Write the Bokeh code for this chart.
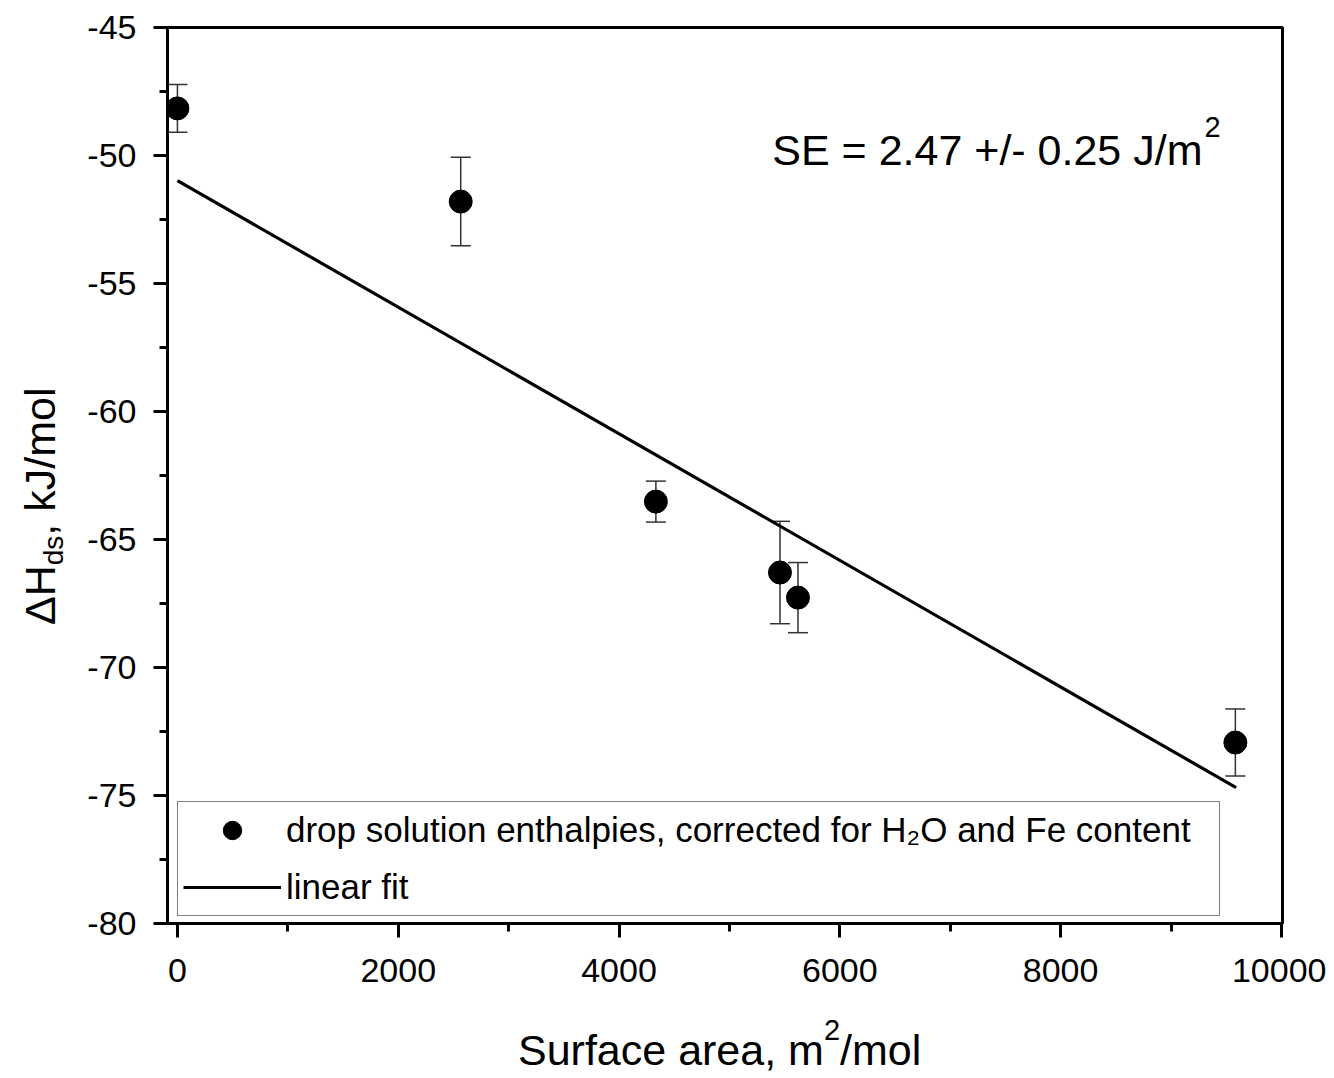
import math
from bokeh.plotting import figure
from bokeh.layouts import row, column
from bokeh.models import (ColumnDataSource, Range1d, FixedTicker, Whisker, TeeHead,
                          Label, Legend, LegendItem, Div)
from bokeh.embed import file_html
from bokeh.resources import INLINE

# ---------------- data ----------------
surface_area = [0, 2566, 4334, 5458, 5621, 9583]          # m2/mol
dh_ds = [-48.16, -51.80, -63.52, -66.29, -67.27, -72.93]   # kJ/mol
dh_err = [0.93, 1.73, 0.80, 2.00, 1.37, 1.31]

fit_x = [0, 9590]
fit_y = [-50.98, -74.69]

x_ticks = [0, 2000, 4000, 6000, 8000, 10000]
x_tick_labels = ["0", "2000", "4000", "6000", "8000", "10000"]
y_ticks = [-80, -75, -70, -65, -60, -55, -50, -45]
y_tick_labels = ["-80", "-75", "-70", "-65", "-60", "-55", "-50", "-45"]

series_label = "drop solution enthalpies, corrected for H\u2082O and Fe content"
fit_label = "linear fit"
se_text = "SE = 2.47 +/- 0.25 J/m"

FONT = "Liberation Sans"

# ---------------- figure ----------------
p = figure(width=1256, height=1010, output_backend="svg", toolbar_location=None,
           x_range=Range1d(-90, 10010), y_range=Range1d(-80, -45),
           min_border_left=97, min_border_right=44,
           min_border_top=27, min_border_bottom=87)
p.grid.visible = False
p.outline_line_color = "black"
p.outline_line_width = 3
p.background_fill_color = "white"
p.border_fill_color = "white"

x_minor = [(a + b) / 2 for a, b in zip(x_ticks, x_ticks[1:])]
y_minor = [(a + b) / 2 for a, b in zip(y_ticks, y_ticks[1:])]
p.xaxis.ticker = FixedTicker(ticks=x_ticks, minor_ticks=x_minor)
p.yaxis.ticker = FixedTicker(ticks=y_ticks, minor_ticks=y_minor)
p.xaxis.major_label_overrides = dict(zip(x_ticks, x_tick_labels))
p.yaxis.major_label_overrides = dict(zip(y_ticks, y_tick_labels))

for ax in (p.xaxis[0], p.yaxis[0]):
    ax.axis_line_width = 3
    ax.axis_line_color = "black"
    ax.major_tick_line_width = 3
    ax.minor_tick_line_width = 3
    ax.major_tick_line_color = "black"
    ax.minor_tick_line_color = "black"
    ax.major_tick_in = 0
    ax.major_tick_out = 14
    ax.minor_tick_in = 0
    ax.minor_tick_out = 8
    ax.major_label_text_font = FONT
    ax.major_label_text_font_size = "34px"
    ax.major_label_text_color = "black"
p.xaxis.major_label_standoff = 21
p.yaxis.major_label_standoff = 17

src = ColumnDataSource(dict(
    x=surface_area, y=dh_ds,
    lo=[v - e for v, e in zip(dh_ds, dh_err)],
    hi=[v + e for v, e in zip(dh_ds, dh_err)],
))

fit_r = p.line(fit_x, fit_y, line_color="black", line_width=3.2)

whisk = Whisker(source=src, base="x", lower="lo", upper="hi", dimension="height",
                line_color="#333333", line_width=1.5,
                upper_head=TeeHead(size=20, line_color="#333333", line_width=1.5),
                lower_head=TeeHead(size=20, line_color="#333333", line_width=1.5))
p.add_layout(whisk)

pts_r = p.scatter("x", "y", source=src, size=23, color="black")

legend = Legend(items=[LegendItem(label=series_label, renderers=[pts_r]),
                       LegendItem(label=fit_label, renderers=[fit_r])],
                location=(10, 7), margin=0, padding=5, spacing=11,
                glyph_width=98, glyph_height=46, label_height=46,
                label_width=928, label_standoff=5,
                label_text_font=FONT, label_text_font_size="35px",
                label_text_color="black",
                border_line_color="black", border_line_width=1.5,
                background_fill_color="white", background_fill_alpha=1.0)
p.add_layout(legend)

# SE annotation inside the frame (screen units relative to the frame)
p.add_layout(Label(x=1035, y=774, x_units="screen", y_units="screen", text=se_text,
                   text_font=FONT, text_font_size="43px", text_color="black",
                   text_align="right", text_baseline="alphabetic"))
p.add_layout(Label(x=1037, y=797, x_units="screen", y_units="screen", text="2",
                   text_font=FONT, text_font_size="29px", text_color="black",
                   text_align="left", text_baseline="alphabetic"))

# ---------------- axis titles (real text with sub/superscripts) ----------------
base_css = "font-family:'Liberation Sans';color:black;white-space:nowrap;"
y_html = (
    '<div style="position:relative;width:70px;height:1070px;">'
    '<div style="position:absolute;left:18.6px;top:625px;transform-origin:0 0;'
    'transform:rotate(-90deg);font-size:43px;line-height:43px;' + base_css + '">'
    '\u0394H<span style="font-size:28px;position:relative;top:8px;">ds</span>, kJ/mol'
    '</div></div>'
)
x_html = (
    '<div style="position:relative;width:1256px;height:60px;">'
    '<div style="position:absolute;left:448px;top:18.6px;font-size:43px;line-height:43px;'
    + base_css + '">'
    'Surface area, m<span style="font-size:29px;position:relative;top:-25px;">2</span>/mol'
    '</div></div>'
)
ydiv = Div(text=y_html, width=70, height=1070, margin=0)
xdiv = Div(text=x_html, width=1256, height=60, margin=0)

layout = row(ydiv, column(p, xdiv, spacing=0), spacing=0)

open("out.html", "w").write(file_html(layout, INLINE))
